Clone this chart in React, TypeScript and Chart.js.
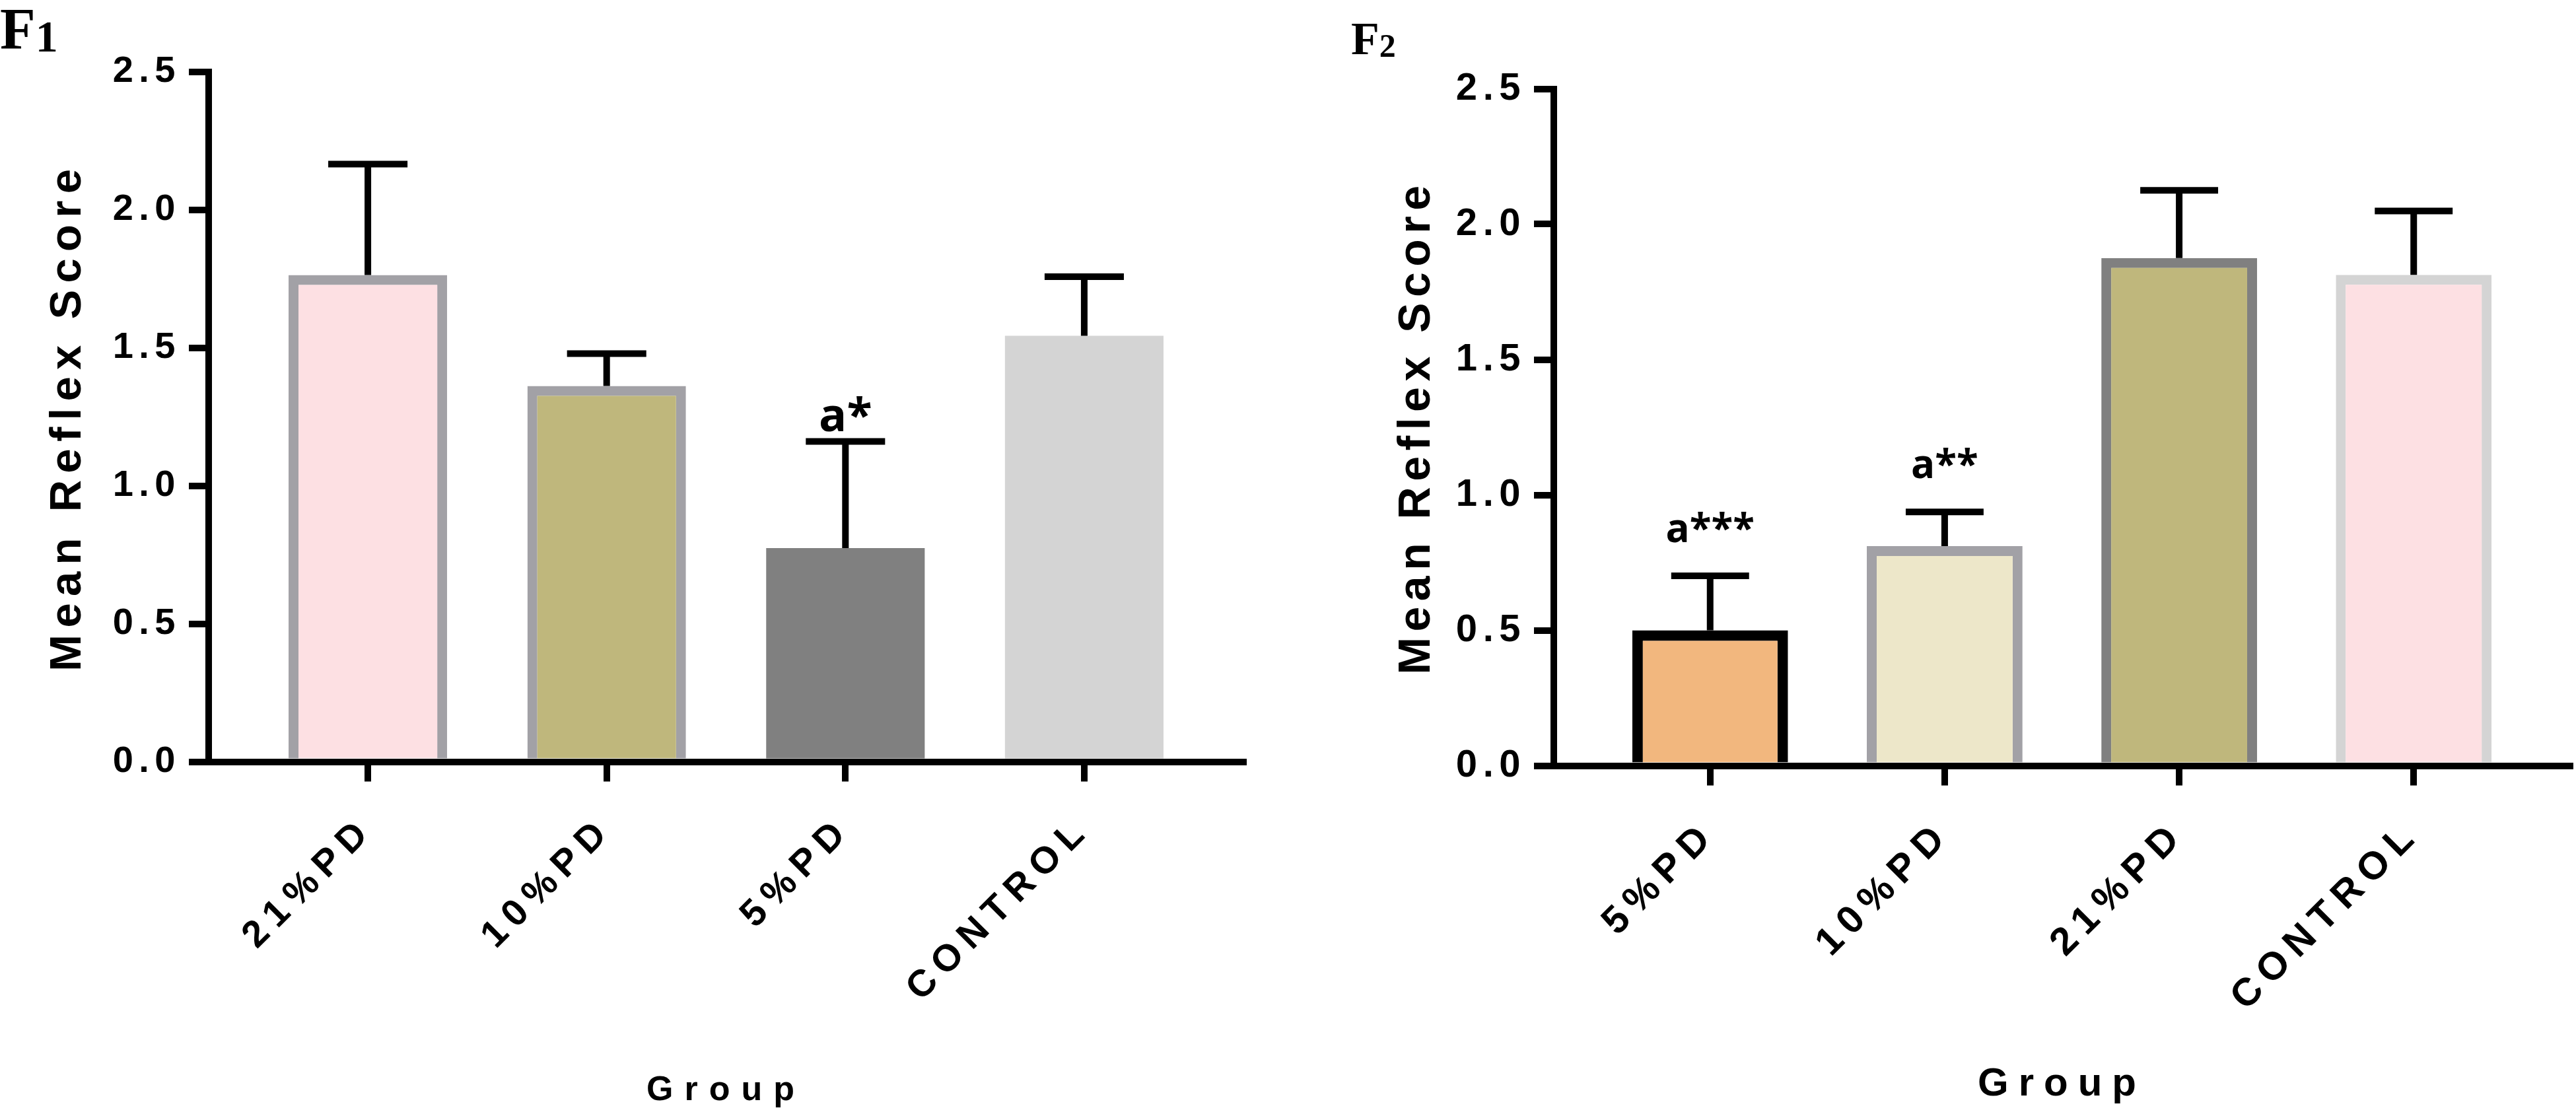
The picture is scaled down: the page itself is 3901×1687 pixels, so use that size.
import React, { useEffect, useRef } from 'react';
import { Chart, registerables } from 'chart.js';

Chart.register(...registerables);

// F1 panel
const groupsF1 = ['21%PD', '10%PD', '5%PD', 'CONTROL'];
const meanF1 = [1.764, 1.362, 0.774, 1.544];
const semF1 = [0.402, 0.117, 0.387, 0.214];
const marksF1 = ['', '', 'a*', ''];
const fillF1 = ['#FDE0E3', '#BFB77C', '#808080', '#D4D4D4'];
const edgeF1 = ['#A2A1A6', '#A2A1A6', '#808080', '#D4D4D4'];
const edgeWidthF1 = [15, 15, 0, 0];

// F2 panel
const groupsF2 = ['5%PD', '10%PD', '21%PD', 'CONTROL'];
const meanF2 = [0.5, 0.811, 1.875, 1.813];
const semF2 = [0.201, 0.126, 0.25, 0.236];
const marksF2 = ['a***', 'a**', '', ''];
const fillF2 = ['#F2B77E', '#EDE7C9', '#BFB77C', '#FDE0E3'];
const edgeF2 = ['#000000', '#A2A1A6', '#808080', '#D4D4D4'];
const edgeWidthF2 = [16, 15, 15, 15];

const yTicks = [0, 0.5, 1, 1.5, 2, 2.5];

const SANS = "'Liberation Sans', Arial, sans-serif";

type Panel = {
  groups: string[];
  mean: number[];
  sem: number[];
  marks: string[];
  fill: string[];
  edge: string[];
  edgeWidth: number[];
  width: number;
  height: number;
  pad: { top: number; right: number; bottom: number; left: number };
  yWidth: number;
  xHeight: number;
  yTickSize: number;
  xTickSize: number;
  yTitleSize: number;
  yTitlePad: number;
  xTitleSize: number;
  xTitlePad: number;
  markSize: number;
  markGap: number;
  // letter spacing (px) keyed by font size, only for the axis font
  spacing: Record<number, number>;
};

const panelF1: Panel = {
  groups: groupsF1, mean: meanF1, sem: semF1, marks: marksF1,
  fill: fillF1, edge: edgeF1, edgeWidth: edgeWidthF1,
  width: 1950, height: 1687,
  pad: { top: 109, right: 67, bottom: 0, left: 0 },
  yWidth: 316, xHeight: 533.5,
  yTickSize: 56, xTickSize: 57, yTitleSize: 67, yTitlePad: 63, xTitleSize: 52, xTitlePad: 4,
  markSize: 70, markGap: 15,
  spacing: { 56: 8.5, 57: 12, 67: 10.3, 52: 17 },
};

const panelF2: Panel = {
  groups: groupsF2, mean: meanF2, sem: semF2, marks: marksF2,
  fill: fillF2, edge: edgeF2, edgeWidth: edgeWidthF2,
  width: 1951, height: 1687,
  pad: { top: 134.5, right: 9, bottom: 0, left: 0 },
  yWidth: 403, xHeight: 527.5,
  yTickSize: 58, xTickSize: 59, yTitleSize: 68, yTitlePad: 155, xTitleSize: 60, xTitlePad: 9,
  markSize: 60, markGap: 51,
  spacing: { 58: 8.5, 59: 12, 68: 8.5, 60: 15 },
};

// canvas has no letter-spacing option in Chart.js, so hook the font setter
function spaceLetters(ctx: CanvasRenderingContext2D, spacing: Record<number, number>) {
  const desc = Object.getOwnPropertyDescriptor(CanvasRenderingContext2D.prototype, 'font')!;
  Object.defineProperty(ctx, 'font', {
    configurable: true,
    get() {
      return desc.get!.call(this);
    },
    set(value: string) {
      desc.set!.call(this, value);
      const m = /([\d.]+)px/.exec(value);
      const px = m ? Math.round(parseFloat(m[1])) : 0;
      const ls = value.includes('Liberation Sans') && spacing[px] ? spacing[px] : 0;
      (this as any).letterSpacing = ls + 'px';
    },
  });
}

const makeErrorBars = (p: Panel) => ({
  id: 'errorBars',
  afterDatasetsDraw(chart: any) {
    const { ctx } = chart;
    const y = chart.scales.y;
    const meta = chart.getDatasetMeta(0);
    ctx.save();
    ctx.strokeStyle = '#000';
    ctx.lineWidth = 10;
    ctx.lineCap = 'butt';
    meta.data.forEach((bar: any, i: number) => {
      const top = y.getPixelForValue(p.mean[i] + p.sem[i]);
      const half = bar.width / 4;
      ctx.beginPath();
      ctx.moveTo(bar.x, bar.y);
      ctx.lineTo(bar.x, top);
      ctx.moveTo(bar.x - half, top);
      ctx.lineTo(bar.x + half, top);
      ctx.stroke();
      if (p.marks[i]) {
        ctx.font = `bold ${p.markSize}px 'Open Sans', sans-serif`;
        ctx.fillStyle = '#000';
        ctx.textAlign = 'center';
        ctx.textBaseline = 'alphabetic';
        ctx.fillText(p.marks[i], bar.x, top - p.markGap);
      }
    });
    ctx.restore();
  },
});

const BarPanel: React.FC<{ panel: Panel; left: number }> = ({ panel: p, left }) => {
  const chartRef = useRef<HTMLCanvasElement | null>(null);
  const chartInstanceRef = useRef<Chart | null>(null);

  useEffect(() => {
    if (!chartRef.current) return;
    const ctx = chartRef.current.getContext('2d');
    if (!ctx) return;
    spaceLetters(ctx, p.spacing);

    const axisLine = {
      border: { display: true, width: 10, color: '#000' },
    };
    const gridTicks = {
      drawOnChartArea: false,
      drawTicks: true,
      offset: false,
      tickLength: 30,
      tickWidth: 10,
      tickColor: '#000',
      lineWidth: 10,
      color: '#000',
    };

    const config: any = {
      type: 'bar',
      data: {
        datasets: [
          {
            data: p.mean.map((v, i) => ({ x: i, y: v })),
            backgroundColor: p.fill,
            borderColor: p.edge,
            borderWidth: p.edgeWidth,
            borderSkipped: 'start',
            categoryPercentage: 0.664,
            barPercentage: 1,
          },
        ],
      },
      options: {
        animation: false,
        responsive: false,
        devicePixelRatio: 1,
        events: [],
        layout: { padding: p.pad },
        scales: {
          x: {
            type: 'linear',
            offset: false,
            bounds: 'data',
            min: -2 / 3,
            max: p.groups.length - 1 + 2 / 3,
            afterBuildTicks: (s: any) => {
              s.ticks = p.groups.map((_, i) => ({ value: i }));
            },
            afterFit: (s: any) => {
              s.height = p.xHeight;
            },
            ticks: {
              autoSkip: false,
              minRotation: 45,
              maxRotation: 45,
              padding: 40,
              color: '#000',
              font: { family: SANS, size: p.xTickSize, weight: 'bold' },
              callback: (v: number) => p.groups[v] ?? '',
            },
            grid: gridTicks,
            ...axisLine,
            title: {
              display: true,
              text: 'Group',
              color: '#000',
              font: { family: SANS, size: p.xTitleSize, weight: 'bold' },
              padding: { top: 0, bottom: p.xTitlePad },
            },
          },
          y: {
            min: 0,
            max: 2.5,
            afterBuildTicks: (s: any) => {
              s.ticks = yTicks.map((v) => ({ value: v }));
            },
            afterFit: (s: any) => {
              s.width = p.yWidth;
            },
            ticks: {
              padding: 12,
              color: '#000',
              font: { family: SANS, size: p.yTickSize, weight: 'bold' },
              callback: (v: number) => Number(v).toFixed(1),
            },
            grid: gridTicks,
            ...axisLine,
            title: {
              display: true,
              text: 'Mean Reflex Score',
              color: '#000',
              font: { family: SANS, size: p.yTitleSize, weight: 'bold' },
              padding: { top: p.yTitlePad, bottom: 0 },
            },
          },
        },
        plugins: {
          legend: { display: false },
          tooltip: { enabled: false },
        },
      },
      plugins: [makeErrorBars(p)],
    };

    if (chartInstanceRef.current) {
      chartInstanceRef.current.destroy();
    }
    chartInstanceRef.current = new Chart(ctx, config);

    return () => {
      if (chartInstanceRef.current) {
        chartInstanceRef.current.destroy();
        chartInstanceRef.current = null;
      }
    };
  }, [p]);

  return (
    <canvas
      ref={chartRef}
      width={p.width}
      height={p.height}
      style={{ position: 'absolute', left, top: 0, width: p.width, height: p.height }}
    />
  );
};

const serif = "'Liberation Serif', 'Times New Roman', serif";

const App: React.FC = () => {
  return (
    <div style={{ position: 'fixed', left: 0, top: 0, width: 3901, height: 1687, background: '#fff', overflow: 'hidden' }}>
      <BarPanel panel={panelF1} left={0} />
      <BarPanel panel={panelF2} left={1950} />
      <div style={{ position: 'absolute', left: 0, top: 0, fontFamily: serif, fontWeight: 'bold', fontSize: 88, lineHeight: '88px', color: '#000' }}>
        F<span style={{ fontSize: 68, position: 'relative', top: 5 }}>1</span>
      </div>
      <div style={{ position: 'absolute', left: 2046, top: 24, fontFamily: serif, fontWeight: 'bold', fontSize: 70, lineHeight: '70px', color: '#000' }}>
        F<span style={{ fontSize: 50, position: 'relative', top: 4 }}>2</span>
      </div>
    </div>
  );
};

export default App;
